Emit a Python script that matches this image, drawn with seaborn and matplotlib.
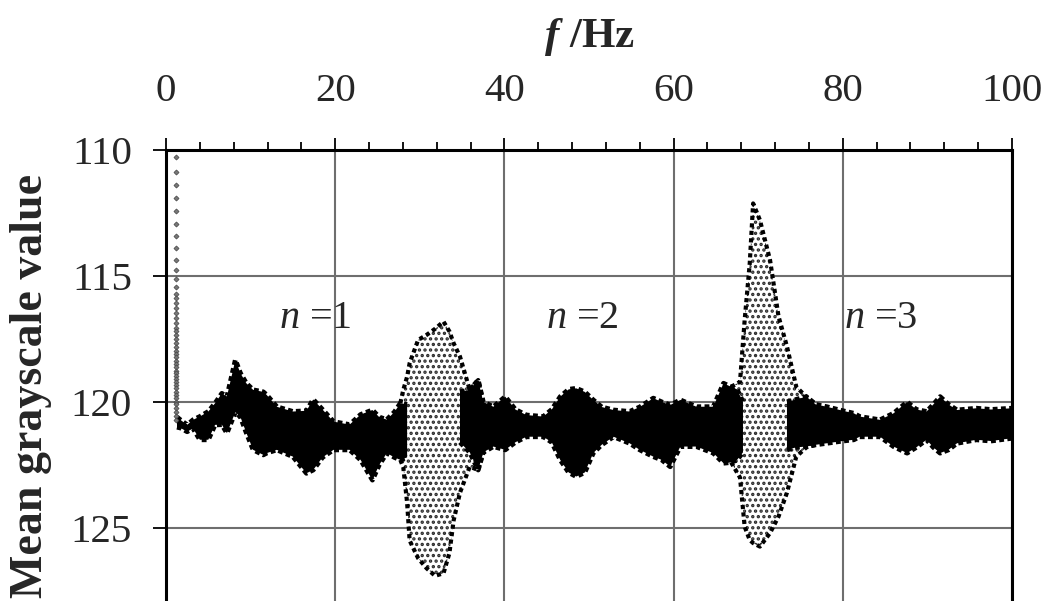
import numpy as np
import matplotlib.pyplot as plt
import seaborn as sns

# dense black band of points: frequency (Hz), upper and lower edge (grayscale)
# nan = no dense band there (inside the wide clouds)
nan = float('nan')
band_f = [1.3, 1.7, 2.5, 3.2, 4.0, 5.0, 5.8, 6.6, 7.2, 8.2,
          8.8, 9.5, 10.3, 11.5, 11.9, 13.1, 15.0, 16.6, 17.4, 18.5,
          19.8, 21.7, 23.0, 24.4, 25.2, 26.1, 27.0, 27.7, 28.5, 29.0,
          34.0, 34.75, 35.9, 36.9, 37.5, 38.7, 40.1, 41.3, 42.6, 44.6,
          45.6, 46.6, 47.6, 48.5, 49.5, 50.5, 51.5, 52.9, 54.8, 56.0,
          57.6, 58.6, 59.6, 60.8, 62.7, 64.7, 65.9, 66.8, 67.5, 68.2,
          68.6, 72.8, 73.4, 74.5, 75.7, 76.8, 78.1, 80.0, 81.3, 82.0,
          84.4, 86.0, 87.6, 88.7, 89.9, 90.7, 91.5, 92.5, 93.5, 95.8,
          97.5, 100.0]
band_top = [120.6, 120.71, 120.91, 120.71, 120.58, 120.38, 120.05, 119.66, 119.79, 118.33,
            118.86, 119.26, 119.52, 119.6, 119.72, 120.19, 120.38, 120.35, 119.9, 120.3,
            120.78, 120.9, 120.5, 120.32, 120.6, 120.7, 120.4, 120.05, 120.1, nan,
            nan, 119.6, 119.52, 119.13, 120.0, 120.19, 119.79, 120.3, 120.52, 120.58,
            120.3, 119.79, 119.5, 119.46, 119.6, 119.92, 120.2, 120.32, 120.38, 120.2,
            119.85, 120.0, 120.12, 119.92, 120.19, 120.19, 119.26, 119.4, 119.5, 120.0,
            nan, nan, 120.0, 119.9, 119.79, 120.1, 120.19, 120.35, 120.45, 120.58,
            120.71, 120.45, 120.0, 120.3, 120.38, 120.1, 119.79, 120.1, 120.32, 120.25,
            120.3, 120.25]
band_bot = [121.0, 121.03, 121.18, 121.05, 121.5, 121.5, 120.91, 120.9, 121.24, 120.4,
            120.6, 121.23, 121.9, 122.1, 122.03, 121.9, 122.17, 122.83, 122.7, 122.2,
            121.9, 121.9, 122.3, 123.1, 122.5, 122.03, 122.2, 122.3, 122.2, nan,
            nan, 121.6, 122.0, 122.7, 122.0, 121.77, 121.9, 121.6, 121.38, 121.38,
            121.6, 122.3, 122.8, 122.96, 122.8, 122.03, 121.7, 121.38, 121.64, 121.9,
            122.17, 122.3, 122.57, 121.77, 121.77, 122.03, 122.43, 122.4, 122.3, 122.0,
            nan, nan, 121.9, 121.8, 121.77, 121.7, 121.64, 121.55, 121.5, 121.38,
            121.38, 121.77, 122.03, 121.8, 121.5, 121.8, 122.03, 121.9, 121.64, 121.5,
            121.55, 121.44]

# wide sparse clouds, n=1 and n=3
cloud1_f = [27.7, 28.05, 28.5, 28.8, 29.8, 30.8, 31.8, 32.8, 33.5, 34.0, 34.75, 35.9, 36.9, 37.5]
cloud1_top = [120.05, 119.52, 119.0, 118.46, 117.54, 117.34, 117.1, 116.81, 117.2, 117.67, 118.2, 119.52, 119.13, 120.0]
cloud1_bot = [122.3, 122.6, 124.0, 125.5, 126.2, 126.6, 126.9, 126.8, 126.0, 124.7, 123.6, 122.57, 122.7, 122.0]

cloud3_f = [66.8, 67.85, 68.4, 69.0, 69.4, 70.2, 71.4, 72.4, 73.4, 74.5, 75.7, 76.8]
cloud3_top = [119.4, 119.2, 116.75, 114.5, 112.12, 112.78, 114.37, 116.6, 117.8, 119.4, 119.8, 120.1]
cloud3_bot = [122.4, 123.0, 124.95, 125.48, 125.6, 125.74, 125.2, 124.55, 123.6, 122.17, 121.8, 121.7]

# vertical run of points at the lowest frequency
spike_f = 1.2
spike_y = [110.27, 110.89, 111.39, 111.92, 112.41, 112.94, 113.41, 113.90, 114.37, 114.76,
           115.12, 115.42, 115.71, 115.89, 116.08, 116.28, 116.48, 116.68, 116.88, 117.05,
           117.2, 117.35, 117.5, 117.67, 117.83, 117.96, 118.10, 118.23, 118.36, 118.49,
           118.62, 118.76, 118.86, 118.97, 119.10, 119.21, 119.33, 119.46, 119.59, 119.72,
           119.85, 119.99, 120.1, 120.25, 120.4, 120.55, 120.7]

mode_names = ['1', '2', '3']
mode_f = [17.7, 49.2, 84.5]
mode_y = 116.7

sns.set_style('white')
plt.rcParams['font.family'] = ['Liberation Serif', 'DejaVu Serif']
plt.rcParams['mathtext.fontset'] = 'custom'
plt.rcParams['mathtext.rm'] = 'Liberation Serif'
plt.rcParams['mathtext.it'] = 'Liberation Serif:italic'
plt.rcParams['mathtext.bf'] = 'Liberation Serif:bold'
plt.rcParams['mathtext.bfit'] = 'Liberation Serif:italic:bold'
plt.rcParams['hatch.linewidth'] = 1.6

fig = plt.figure(figsize=(10.46, 6.01), dpi=100)
ax = fig.add_axes([166/1046, 0, 846/1046, 451/601])

# sparse clouds: stippled inside, speckled dark rim
for cf, ct, cb in [(cloud1_f, cloud1_top, cloud1_bot), (cloud3_f, cloud3_top, cloud3_bot)]:
    ax.fill_between(cf, ct, cb, facecolor='white', edgecolor='#2a2a2a', hatch='...', linewidth=0, zorder=2)
    sns.lineplot(x=cf, y=ct, color='black', lw=3, ls=(0, (1, 0.8)), ax=ax, zorder=3)
    sns.lineplot(x=cf, y=cb, color='black', lw=3, ls=(0, (1, 0.8)), ax=ax, zorder=3)

# dense band, with a ragged rim
ax.fill_between(band_f, band_top, band_bot, color='black', linewidth=0, zorder=4)
ax.plot(band_f, band_top, color='black', lw=3.5, ls=(0, (1, 0.7)), zorder=4)
ax.plot(band_f, band_bot, color='black', lw=3.5, ls=(0, (1, 0.7)), zorder=4)

sns.scatterplot(x=[spike_f] * len(spike_y), y=spike_y, marker='D', s=7, color='#777777',
                edgecolor='#333333', linewidth=0.4, ax=ax, zorder=5)

for name, fx in zip(mode_names, mode_f):
    ax.text(fx, mode_y, r'$n$ =' + name, fontsize=29, ha='center', va='center', zorder=6)

ax.set_xlim(0, 100)
ax.set_ylim(127.9, 110)
ax.set_xticks([0, 20, 40, 60, 80, 100])
ax.set_xticks(np.arange(0, 101, 4), minor=True)
ax.set_yticks([110, 115, 120, 125])
ax.xaxis.tick_top()
ax.grid(True, which='major', color='#6e6e6e', lw=1.5)
ax.set_axisbelow(True)

ax.tick_params(axis='x', which='major', direction='out', length=9, width=1.3, pad=20,
               labelsize=29.5, top=True, bottom=False, color='black')
ax.tick_params(axis='x', which='minor', direction='out', length=6, width=1.3, top=True, bottom=False, color='black')
ax.tick_params(axis='y', which='major', direction='out', length=9.5, width=1.3, pad=15,
               labelsize=29.5, left=True, color='black')

for s in ['top', 'left', 'right']:
    ax.spines[s].set_visible(True)
    ax.spines[s].set_color('black')
    ax.spines[s].set_linewidth(2.2)
ax.spines['bottom'].set_visible(False)

ax.xaxis.set_label_position('top')
ax.set_xlabel(r'$\mathbfit{f}$ /Hz', fontsize=31, fontweight='bold')
ax.xaxis.set_label_coords(0.5, (601 - 47) / 451)
ax.set_ylabel('Mean grayscale value', fontsize=33, fontweight='bold')
ax.yaxis.set_label_coords(-0.135, 0.477)

fig.savefig('out.png', dpi=100)
